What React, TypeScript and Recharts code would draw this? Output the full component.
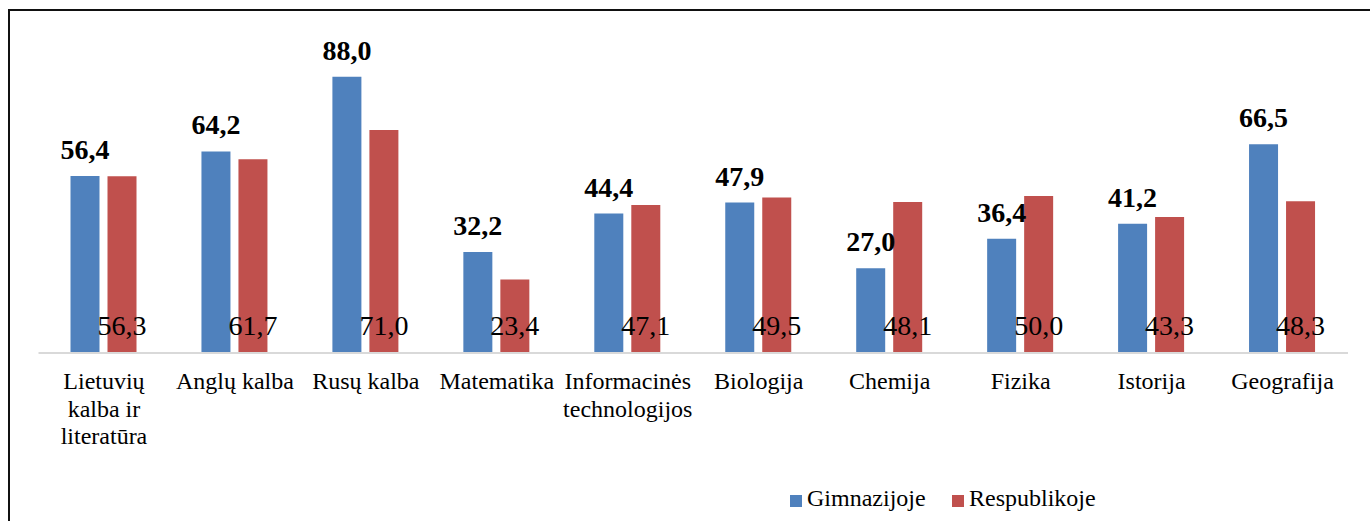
import React from "react"
import { Bar, BarChart, LabelList, XAxis, YAxis } from "recharts"

const categories = [
  "Lietuvių kalba ir literatūra",
  "Anglų kalba",
  "Rusų kalba",
  "Matematika",
  "Informacinės technologijos",
  "Biologija",
  "Chemija",
  "Fizika",
  "Istorija",
  "Geografija",
]

// line breaks used under the axis
const categoryLines: Record<string, string[]> = {
  "Lietuvių kalba ir literatūra": ["Lietuvių", "kalba ir", "literatūra"],
  "Informacinės technologijos": ["Informacinės", "technologijos"],
}

const gimnazijoje = [56.4, 64.2, 88.0, 32.2, 44.4, 47.9, 27.0, 36.4, 41.2, 66.5]
const respublikoje = [56.3, 61.7, 71.0, 23.4, 47.1, 49.5, 48.1, 50.0, 43.3, 48.3]

const seriesNames = ["Gimnazijoje", "Respublikoje"]
const seriesColors = ["#4f81bd", "#c0504d"]
const legendLeft = [790, 952]

const FONT = "'Liberation Serif', 'Times New Roman', serif"

const data = categories.map((name, i) => ({
  name,
  gimnazijoje: gimnazijoje[i],
  respublikoje: respublikoje[i],
}))

const fmt = (v: any) => Number(v).toFixed(1).replace(".", ",")

const CategoryTick = (props: any) => {
  const { x, y, payload } = props
  const lines = categoryLines[payload.value] ?? [payload.value]
  return (
    <text x={x} y={y} textAnchor="middle" style={{ fontFamily: FONT, fontSize: 24 }} fill="#000">
      {lines.map((line, i) => (
        <tspan key={line} x={x} dy={i === 0 ? 36 : 27.5}>
          {line}
        </tspan>
      ))}
    </text>
  )
}

export default function App() {
  return (
    <div style={{ position: "fixed", left: 0, top: 0, width: 1370, height: 521, overflow: "hidden", background: "#fff" }}>
      <div
        style={{
          position: "absolute",
          left: 8,
          top: 9,
          right: -10,
          bottom: -10,
          borderTop: "2px solid #111",
          borderLeft: "2px solid #111",
        }}
      />
      <div style={{ position: "absolute", left: 0, top: 0 }}>
        <BarChart
          width={1370}
          height={521}
          data={data}
          margin={{ top: 39, right: 22, left: 38.5, bottom: 68 }}
          barSize={29}
          barGap={8}
        >
          <XAxis
            dataKey="name"
            height={100}
            interval={0}
            tickLine={false}
            tickSize={0}
            tickMargin={0}
            axisLine={{ stroke: "#d9d9d9", strokeWidth: 2 }}
            tick={<CategoryTick />}
          />
          <YAxis hide domain={[0, 100]} />
          <Bar dataKey="gimnazijoje" name={seriesNames[0]} fill={seriesColors[0]} isAnimationActive={false}>
            <LabelList
              dataKey="gimnazijoje"
              position="top"
              offset={17}
              formatter={fmt}
              style={{ fontFamily: FONT, fontSize: 28, fontWeight: 700, fill: "#000" }}
            />
          </Bar>
          <Bar dataKey="respublikoje" name={seriesNames[1]} fill={seriesColors[1]} isAnimationActive={false}>
            <LabelList
              dataKey="respublikoje"
              position="insideBottom"
              offset={18}
              formatter={fmt}
              style={{ fontFamily: FONT, fontSize: 28, fill: "#000" }}
            />
          </Bar>
        </BarChart>
      </div>
      {seriesNames.map((name, i) => (
        <React.Fragment key={name}>
          <div
            style={{
              position: "absolute",
              left: legendLeft[i],
              top: 495,
              width: 12,
              height: 12,
              background: seriesColors[i],
            }}
          />
          <div
            style={{
              position: "absolute",
              left: legendLeft[i] + 17,
              top: 485,
              fontFamily: FONT,
              fontSize: 24,
              lineHeight: "27px",
              color: "#000",
              whiteSpace: "nowrap",
            }}
          >
            {name}
          </div>
        </React.Fragment>
      ))}
    </div>
  )
}
